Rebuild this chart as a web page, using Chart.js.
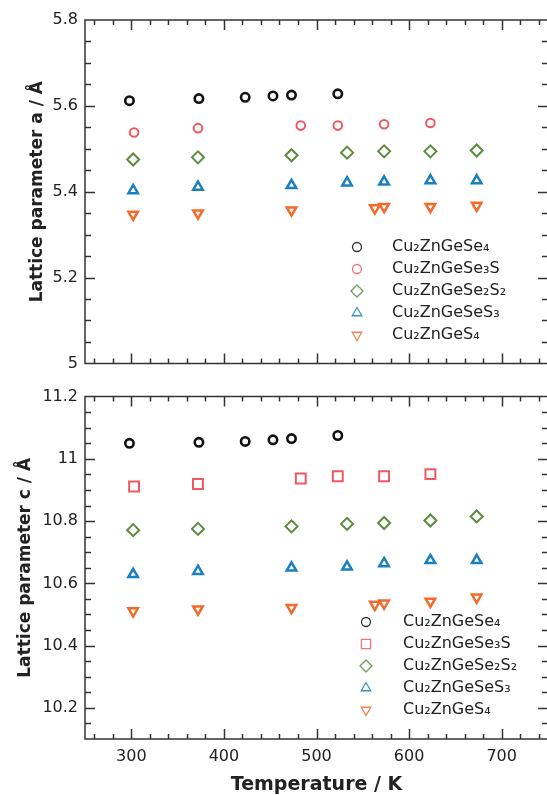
<!DOCTYPE html>
<html>
<head>
<meta charset="utf-8">
<title>Lattice parameters vs temperature</title>
<script src="https://cdn.jsdelivr.net/npm/chart.js@4.4.1/dist/chart.umd.min.js"></script>
<style>
  html, body { margin: 0; padding: 0; background: #fff; overflow: hidden; }
  canvas { display: block; }
</style>
</head>
<body>
<canvas id="chartA" width="549" height="380"></canvas>
<canvas id="chartC" width="549" height="415"></canvas>
<script>
// --- Data ---
const seriesNames = ['Cu₂ZnGeSe₄', 'Cu₂ZnGeSe₃S', 'Cu₂ZnGeSe₂S₂', 'Cu₂ZnGeSeS₃', 'Cu₂ZnGeS₄'];

// temperatures (K) per compound
const tempSe4   = [298, 373, 423, 453, 473, 523];
const tempSe3S  = [303, 372, 483, 523, 573, 623];
const tempSe2S2 = [302, 372, 473, 533, 573, 623, 673];
const tempSeS3  = [302, 372, 473, 533, 573, 623, 673];
const tempS4    = [302, 372, 473, 563, 573, 623, 673];

// lattice parameter a (Å)
const aSe4   = [5.612, 5.617, 5.620, 5.623, 5.625, 5.628];
const aSe3S  = [5.538, 5.548, 5.554, 5.554, 5.557, 5.560];
const aSe2S2 = [5.475, 5.480, 5.485, 5.491, 5.494, 5.494, 5.496];
const aSeS3  = [5.403, 5.411, 5.415, 5.421, 5.423, 5.426, 5.426];
const aS4    = [5.347, 5.350, 5.357, 5.362, 5.365, 5.365, 5.368];

// lattice parameter c (Å)
const cSe4   = [11.050, 11.053, 11.056, 11.061, 11.065, 11.075];
const cSe3S  = [10.911, 10.919, 10.937, 10.944, 10.944, 10.951];
const cSe2S2 = [10.771, 10.775, 10.783, 10.791, 10.794, 10.802, 10.815];
const cSeS3  = [10.629, 10.639, 10.650, 10.653, 10.664, 10.674, 10.674];
const cS4    = [10.511, 10.517, 10.522, 10.532, 10.536, 10.542, 10.555];

// axis ticks
const xTicks  = [300, 400, 500, 600, 700];
const yTicksA = [5, 5.2, 5.4, 5.6, 5.8];
const yTicksC = [10.2, 10.4, 10.6, 10.8, 11, 11.2];

// --- styles ---
const colors = ['#111111', '#ee5a60', '#5b8c3e', '#1b80c0', '#f26b2a'];
const FONT = '"DejaVu Sans", sans-serif';

function pts(xs, ys) { return xs.map((t, i) => ({ x: t, y: ys[i] })); }

function makeDatasets(vals, secondStyle) {
  const temps = [tempSe4, tempSe3S, tempSe2S2, tempSeS3, tempS4];
  const styles = [
    { pointStyle: 'circle', pointRadius: 4.2, pointBorderWidth: 2.6, legendRadius: 4.5 },
    secondStyle,
    { pointStyle: 'rectRot', pointRadius: 6, pointBorderWidth: 2, legendRadius: 6 },
    { pointStyle: 'triangle', pointRadius: 5.5, pointBorderWidth: 2.5, legendRadius: 5.5 },
    { pointStyle: 'triangle', pointRadius: 5.5, pointBorderWidth: 2.5, pointRotation: 180, legendRadius: 5.5 }
  ];
  return vals.map((v, i) => Object.assign({
    label: seriesNames[i],
    data: pts(temps[i], v),
    showLine: false,
    borderColor: colors[i],
    pointBorderColor: colors[i],
    pointBackgroundColor: 'rgba(0,0,0,0)',
    pointHoverRadius: 0
  }, styles[i]));
}

// frame (right side falls just past the window edge) + inward ticks
const frameTicks = {
  id: 'frameTicks',
  afterDatasetsDraw(chart) {
    const { ctx, chartArea: a, scales: { x, y } } = chart;
    ctx.save();
    ctx.strokeStyle = '#333';
    ctx.lineWidth = 1.5;
    ctx.beginPath();
    ctx.moveTo(a.right, a.top); ctx.lineTo(a.left, a.top);
    ctx.lineTo(a.left, a.bottom); ctx.lineTo(a.right, a.bottom);
    for (let t = 260; t <= 740; t += 20) {
      const len = t % 100 === 0 ? 10 : 5;
      const px = Math.round(x.getPixelForValue(t)) + 0.5;
      ctx.moveTo(px, a.bottom); ctx.lineTo(px, a.bottom - len);
      ctx.moveTo(px, a.top); ctx.lineTo(px, a.top + len);
    }
    const n = Math.round((y.max - y.min) / 0.05);
    for (let i = 1; i < n; i++) {
      const v = y.min + i * 0.05;
      const major = Math.abs(v / 0.2 - Math.round(v / 0.2)) < 1e-6;
      const len = major ? 10 : 6;
      const py = Math.round(y.getPixelForValue(v)) + 0.5;
      ctx.moveTo(a.left, py); ctx.lineTo(a.left + len, py);
      ctx.moveTo(a.right, py); ctx.lineTo(a.right - len, py);
    }
    ctx.stroke();
    ctx.restore();
  }
};

// legend drawn inside the plot area
const insideLegend = {
  id: 'insideLegend',
  afterDraw(chart, args, opts) {
    const ctx = chart.ctx;
    ctx.save();
    ctx.font = '16px ' + FONT;
    ctx.textBaseline = 'middle';
    chart.data.datasets.forEach((ds, i) => {
      const y = opts.top + i * opts.row;
      ctx.globalAlpha = 0.85;
      ctx.strokeStyle = ds.borderColor;
      ctx.fillStyle = 'rgba(0,0,0,0)';
      ctx.lineWidth = 1.3;
      Chart.helpers.drawPoint(ctx, {
        pointStyle: ds.pointStyle,
        rotation: ds.pointRotation || 0,
        radius: ds.legendRadius,
        borderWidth: 1.3
      }, opts.symbolX, y);
      ctx.globalAlpha = 1;
      ctx.fillStyle = '#222';
      ctx.fillText(ds.label, opts.textX, y);
    });
    ctx.restore();
  }
};

function makeChart(id, datasets, cfg) {
  return new Chart(document.getElementById(id), {
    type: 'scatter',
    data: { datasets },
    plugins: [frameTicks, insideLegend],
    options: {
      responsive: false,
      animation: false,
      events: [],
      layout: { padding: cfg.padding, autoPadding: false },
      plugins: {
        legend: { display: false },
        tooltip: { enabled: false },
        insideLegend: cfg.legend
      },
      scales: {
        x: {
          type: 'linear', min: 250, max: 750,
          grid: { display: false, drawTicks: false },
          border: { display: false },
          afterBuildTicks: s => { s.ticks = xTicks.map(v => ({ value: v })); },
          afterFit: s => { s.height = cfg.xHeight; },
          ticks: {
            display: cfg.xLabels, padding: 8, color: '#222',
            font: { family: FONT, size: 16 }
          },
          title: {
            display: cfg.xLabels, text: 'Temperature / K', color: '#222',
            font: { family: FONT, size: 19, weight: 'bold', lineHeight: 1.05 },
            padding: { top: 0, bottom: 0 }
          }
        },
        y: {
          type: 'linear', min: cfg.yMin, max: cfg.yMax,
          grid: { display: false, drawTicks: false },
          border: { display: false },
          afterBuildTicks: s => { s.ticks = cfg.yTicks.map(v => ({ value: v })); },
          afterFit: s => { s.width = 85; },
          ticks: {
            padding: 7, color: '#222',
            font: { family: FONT, size: 16 },
            callback: v => String(v)
          },
          title: {
            display: true, text: cfg.yTitle, color: '#222',
            font: { family: FONT, size: 17, weight: 'bold', lineHeight: 1.2 },
            padding: { top: cfg.yTitlePad, bottom: 0 }
          }
        }
      }
    }
  });
}

makeChart('chartA',
  makeDatasets([aSe4, aSe3S, aSe2S2, aSeS3, aS4],
    { pointStyle: 'circle', pointRadius: 4.3, pointBorderWidth: 2, legendRadius: 4.5 }),
  {
    padding: { left: 0, top: 20, right: 1, bottom: 13 },
    xHeight: 0, xLabels: false,
    yMin: 5, yMax: 5.8, yTicks: yTicksA,
    yTitle: 'Lattice parameter a / Å', yTitlePad: 27,
    legend: { symbolX: 357, textX: 392, top: 247, row: 22 }
  });

makeChart('chartC',
  makeDatasets([cSe4, cSe3S, cSe2S2, cSeS3, cS4],
    { pointStyle: 'rect', pointRadius: 7, pointBorderWidth: 2, legendRadius: 6.5 }),
  {
    padding: { left: 0, top: 12, right: 1, bottom: 0 },
    xHeight: 56, xLabels: true,
    yMin: 10.1, yMax: 11.2, yTicks: yTicksC,
    yTitle: 'Lattice parameter c / Å', yTitlePad: 15,
    legend: { symbolX: 366, textX: 403, top: 242, row: 22 }
  });
</script>
</body>
</html>
